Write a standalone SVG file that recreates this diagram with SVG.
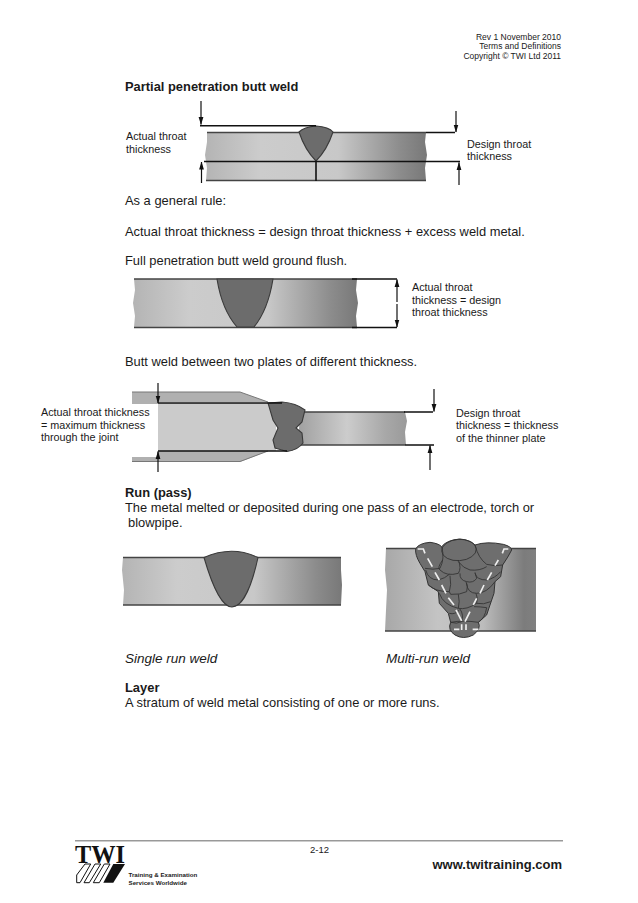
<svg xmlns="http://www.w3.org/2000/svg" width="638" height="903" viewBox="0 0 638 903">
<style>
text{font-family:"Liberation Sans",Arial,sans-serif;fill:#1a1a1a}
.b{font-size:12.9px}
.bb{font-size:12.9px;font-weight:bold}
.i{font-size:13.5px;font-style:italic}
.l{font-size:10.8px}
.h{font-size:8.5px;text-anchor:end}
.e{fill:none;stroke:#444;stroke-width:1.3}
.w{fill:#6c6c6c;stroke:#3a3a3a;stroke-width:1.1}
.k{fill:none;stroke:#111;stroke-width:1.6}
.a{fill:none;stroke:#111;stroke-width:1.2;marker-end:url(#ah)}
.r{fill:none;stroke:#333;stroke-width:2.600}
.d{fill:none;stroke:#eee;stroke-width:5}
</style>
<defs>
<marker id="ah" markerUnits="userSpaceOnUse" markerWidth="8" markerHeight="7" refX="7.500" refY="3" orient="auto"><path d="M0 0.600L8 3L0 5.400Z" fill="#111"/></marker>
<linearGradient id="g1" x1="0" x2="1" y1="0" y2="0"><stop offset="0" stop-color="#b4b4b4"/><stop offset=".25" stop-color="#cccccc"/><stop offset=".6" stop-color="#c8c8c8"/><stop offset=".88" stop-color="#8c8c8c"/><stop offset="1" stop-color="#787878"/></linearGradient>
<linearGradient id="g2" x1="0" x2="1" y1="0" y2="0"><stop offset="0" stop-color="#a0a0a0"/><stop offset=".45" stop-color="#cccccc"/><stop offset=".8" stop-color="#a8a8a8"/><stop offset="1" stop-color="#9a9a9a"/></linearGradient>
<linearGradient id="g3" x1="0" x2="1" y1="0" y2="0"><stop offset="0" stop-color="#a8a8a8"/><stop offset=".35" stop-color="#c4c4c4"/><stop offset=".65" stop-color="#bcbcbc"/><stop offset=".92" stop-color="#7c7c7c"/><stop offset="1" stop-color="#808080"/></linearGradient>
</defs>
<rect width="638" height="903" fill="#fff"/>

<g id="header">
<text class="h" x="561" y="40">Rev 1 November 2010</text>
<text class="h" x="561" y="49">Terms and Definitions</text>
<text class="h" x="561" y="59">Copyright © TWI Ltd 2011</text>
</g>

<g id="text-body">
<text class="bb" x="125" y="91">Partial penetration butt weld</text>
<text class="b" x="125" y="205">As a general rule:</text>
<text class="b" x="125" y="236">Actual throat thickness = design throat thickness + excess weld metal.</text>
<text class="b" x="125" y="265">Full penetration butt weld ground flush.</text>
<text class="b" x="125" y="366">Butt weld between two plates of different thickness.</text>
<text class="bb" x="125" y="497">Run (pass)</text>
<text class="b" x="125" y="512">The metal melted or deposited during one pass of an electrode, torch or</text>
<text class="b" x="128" y="527">blowpipe.</text>
<text class="i" x="125" y="663">Single run weld</text>
<text class="i" x="386" y="663">Multi-run weld</text>
<text class="bb" x="125" y="692">Layer</text>
<text class="b" x="125" y="707">A stratum of weld metal consisting of one or more runs.</text>
</g>

<g id="fig-partial">
<path fill="url(#g1)" d="M207 132.500H426L425 142L427 155L425 168L426 180.500H206L207 168L205 155L207 142Z"/>
<path class="e" d="M207 132.500H426M206 180.500H426"/>
<path class="w" d="M299 132Q304 127 316 126Q329 127 333 132Q327 150 316 161Q305 150 299 132Z"/>
<path class="k" d="M200 125.700H316M204 161.500H460M316 161V181M426 132.500H455"/>
<text class="l" x="126" y="140">Actual throat</text>
<text class="l" x="126" y="153">thickness</text>
<text class="l" x="467" y="148">Design throat</text>
<text class="l" x="467" y="159.500">thickness</text>
</g>

<g id="fig-full">
<path fill="url(#g1)" d="M134 279H357L356 290L358 303L356 316L357 327H134L135 316L133 303L135 290Z"/>
<path class="e" d="M134 279H357M134 327.500H357"/>
<path class="w" d="M217 279H273Q268 310 254 327H237Q222 310 217 279Z"/>
<path class="k" d="M352 279H397M352 327.500H397"/>
<text class="l" x="412" y="291">Actual throat</text>
<text class="l" x="412" y="304">thickness = design</text>
<text class="l" x="412" y="316">throat thickness</text>
</g>

<g id="fig-different">
<path fill="#b0b0b0" d="M132 392H240L268 402H158V404H132Z"/>
<path fill="#b0b0b0" d="M132 457H158V451H268L240 462H132Z"/>
<path fill="#cbcbcb" d="M158 403H276V451H158Z"/>
<path fill="none" stroke="#777" stroke-width="1" d="M132 392H240L268 402M132 461.500H240L268 451"/>
<path fill="url(#g2)" d="M300 412H405L407 421L405 432L406 445H298Z"/>
<path class="e" d="M300 412H405M298 445H405"/>
<path class="w" d="M268 403L282 402Q296 403 305 410L302 422L296 428L302 433L303 443Q298 450 287 451.500L275 448L273 440L278 428L273 420Z"/>
<path class="k" d="M158 403H282M158 451H287M404 412H433M405 445H434"/>
<text class="l" x="41" y="416">Actual throat thickness</text>
<text class="l" x="41" y="429">= maximum thickness</text>
<text class="l" x="41" y="441">through the joint</text>
<text class="l" x="456" y="417">Design throat</text>
<text class="l" x="456" y="429">thickness = thickness</text>
<text class="l" x="456" y="442">of the thinner plate</text>
</g>

<g id="fig-single">
<path fill="url(#g1)" d="M123 557.500H341L341 570L342 585L341 605H123L124 590L122 570Z"/>
<path class="e" d="M123 557.500H341M123 605H341"/>
<path class="w" d="M204 557.500Q232 545 258 557.500C252 585 243 607 232 607C221 607 212 585 204 557.500Z"/>
</g>

<g id="fig-multi">
<path fill="url(#g3)" d="M386 548.500H536V631H385L386 610L387 590L385 570Z"/>
<path class="e" d="M386 548.500H536M385 631H536"/>
<g transform="translate(380 535) scale(.3333)">
<path fill="#6e6e6e" stroke="#333" stroke-width="3" d="M107 42Q115 25 150 22Q175 25 185 35Q200 15 240 12Q270 15 285 30Q320 18 370 28Q395 35 395 45Q385 65 368 90L362 125L345 140L342 175L330 210L320 240L295 262Q305 280 280 300Q250 315 225 300Q202 285 212 262L205 235L178 205L175 170L145 150L135 110L120 85Q105 60 107 42Z"/>
<ellipse class="r" cx="237" cy="45" rx="52" ry="32" transform="rotate(-4 237 45)"/>
<path class="r" d="M185 35Q195 70 180 100Q160 105 135 100"/>
<path class="r" d="M285 30Q295 70 320 88Q345 95 368 90"/>
<path class="r" d="M188 75Q170 100 180 105Q200 125 235 115Q245 100 235 75"/>
<path class="r" d="M235 80Q250 100 270 105Q300 108 320 95"/>
<path class="r" d="M137 105Q145 135 175 135Q195 130 208 118"/>
<path class="r" d="M240 115Q238 135 260 140Q280 145 290 130L285 112"/>
<path class="r" d="M285 115Q290 135 320 135Q345 130 362 110"/>
<path class="r" d="M145 150Q165 170 208 170Q215 150 210 122"/>
<path class="r" d="M208 170L212 178Q240 180 260 170Q265 155 258 140"/>
<path class="r" d="M260 145Q262 175 290 175Q320 175 345 140"/>
<path class="r" d="M178 175Q190 210 235 220Q240 200 235 178"/>
<path class="r" d="M235 220Q260 225 290 205Q295 190 288 175"/>
<path class="r" d="M290 205Q310 210 332 200"/>
<path class="r" d="M208 235Q225 240 238 225"/>
<path class="r" d="M212 262Q230 268 245 260Q252 240 240 222"/>
<path class="r" d="M295 262Q315 250 320 218Q300 215 282 215"/>
<path class="r" d="M212 262Q250 255 295 262"/>
<path class="d" d="M113 42H130L135 55M143 70L157 95M165 112L178 135M185 150L198 175M205 188L222 210M228 225L245 258M385 42H372L367 55M355 75L345 92M335 112L322 135M312 150L300 175M290 190L280 210M270 230L255 260M245 268V285M258 268V285M222 283H238M278 283H295"/>
</g>
</g>

<g id="connectors">
<path class="a" d="M201 101V124.500"/>
<path class="a" d="M201.500 183V162"/>
<path class="a" d="M456 111V132"/>
<path class="a" d="M459 185V162.500"/>
<path class="a" d="M397 302V279.500"/>
<path class="a" d="M397 304V327"/>
<path class="a" d="M158 383V403"/>
<path class="a" d="M158 472V451.500"/>
<path class="a" d="M434 389V411.500"/>
<path class="a" d="M430 470V445.500"/>
</g>

<g id="footer">
<rect x="75" y="840" width="488" height="1.500" fill="#999"/>
<text x="310" y="853" font-size="9.500">2-12</text>
<text x="562" y="869" font-size="13" text-anchor="end" style="font-weight:bold">www.twitraining.com</text>
<text x="75" y="863" font-size="25" textLength="50" lengthAdjust="spacingAndGlyphs" style="font-family:'Liberation Serif',serif;fill:#111;font-weight:bold">TWI</text>
<path d="M76.700 882.700V875L85 864H90.700L80 882.700ZM84 882.700L95 864H100.700L89.300 882.700ZM93.300 882.700L104.300 864H110L99.300 882.700Z" fill="none" stroke="#111" stroke-width="1"/>
<path d="M103.300 882.700L113.300 864H125L113.300 882.700Z" fill="#111"/>
<text x="128.500" y="877" font-size="6.200" style="font-weight:bold">Training &amp; Examination</text>
<text x="128.500" y="885" font-size="6.200" style="font-weight:bold">Services Worldwide</text>
</g>
</svg>
